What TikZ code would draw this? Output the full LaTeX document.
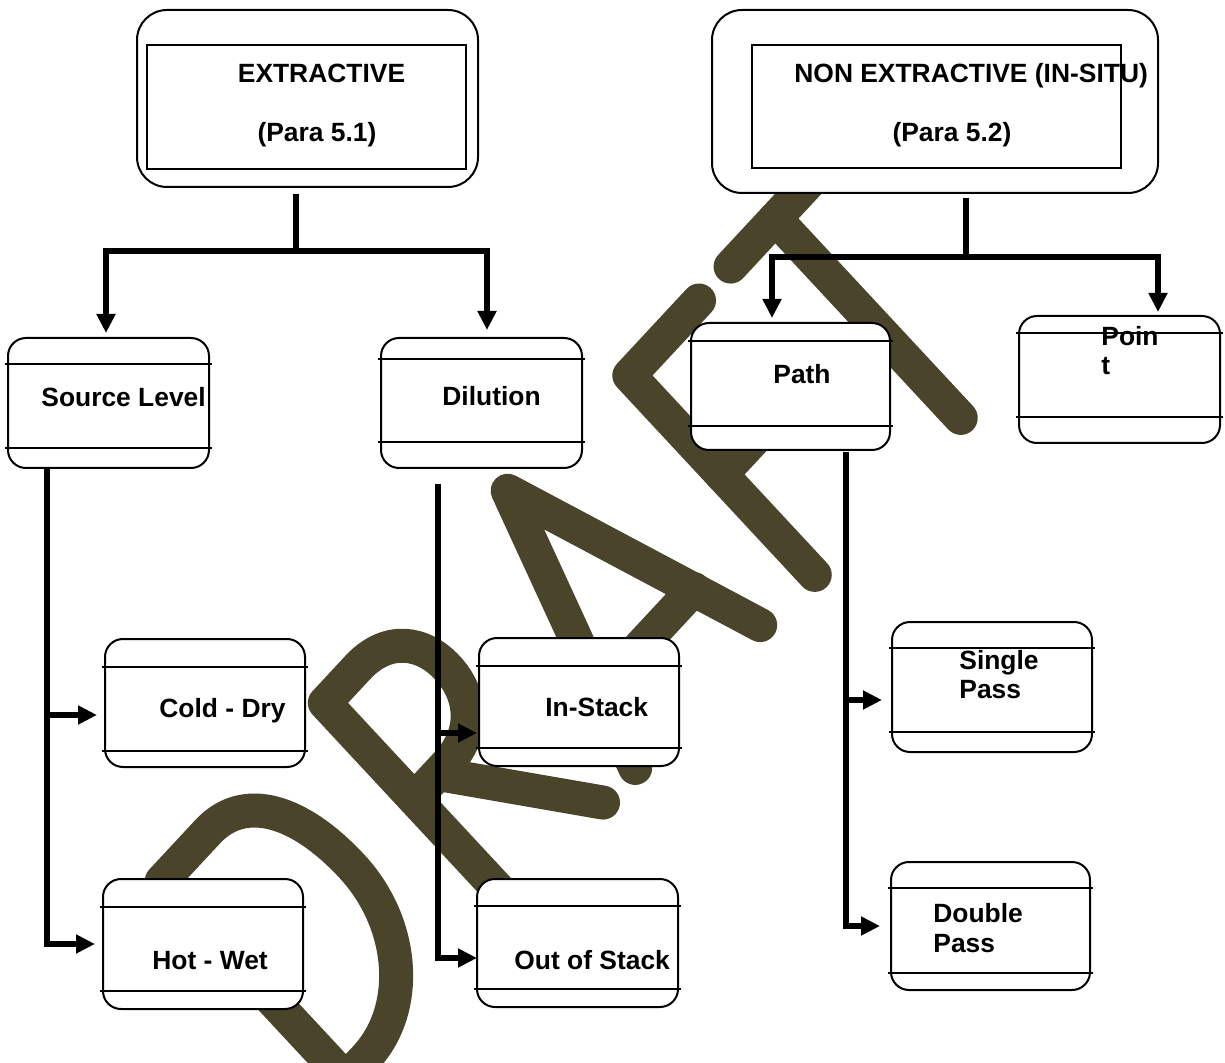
\documentclass[tikz,border=0pt]{standalone}
\usepackage{fontspec}
\setmainfont{Liberation Sans}
\usetikzlibrary{arrows.meta}
\definecolor{wmark}{RGB}{74,68,42}
\begin{document}
\begin{tikzpicture}[x=0.5pt,y=-0.5pt,
  box/.style={draw, line width=1pt, fill=white, rounded corners=9pt, inner sep=0pt, outer sep=0pt},
  bigbox/.style={box, rounded corners=15pt},
  rule/.style={line width=1pt},
  conn/.style={line width=2.75pt},
  tipend/.style={-{Triangle[length=9.5pt,width=9pt]}},
  tipboth/.style={{Triangle[length=9.5pt,width=9pt]}-{Triangle[length=9.5pt,width=9pt]}},
  lbl/.style={inner sep=0pt, font=\fontsize{13.2}{15}\selectfont\bfseries},
  wmstroke/.style={draw=wmark, line width=17pt, line cap=round, line join=round}
]
\useasboundingbox (0,0) rectangle (1225,1063);
\fill[white] (0,0) rectangle (1225,1063);

% DRAFT watermark, letters drawn in a rotated frame
\begin{scope}
\clip (0,0) rectangle (1225,1063);
\begin{scope}[xscale=0.93, rotate=45, x=0.5pt, y=0.5pt]
  % D
  \draw[wmstroke] (-500,-746) -- (-500,-1026) -- (-470,-1026)
     .. controls (-400,-1026) and (-345,-960) .. (-345,-880)
     .. controls (-345,-800) and (-375,-746) .. (-430,-746) -- cycle;
  % R
  \draw[wmstroke] (-250,-1026) -- (-250,-744) -- (-200,-744)
     .. controls (-155,-744) and (-132,-775) .. (-132,-812)
     .. controls (-132,-850) and (-155,-880) .. (-200,-880) -- (-250,-880);
  \draw[wmstroke] (-213,-882) -- (-109,-1026);
  % A
  \draw[wmstroke] (-60,-1026) -- (39,-733) -- (136,-1020);
  \draw[wmstroke] (-32,-944) -- (111,-944);
  % F
  \draw[wmstroke] (319,-744) -- (213,-744) -- (213,-1026);
  \draw[wmstroke] (213,-884) -- (300,-884);
  % T
  \draw[wmstroke] (435,-1026) -- (435,-744);
  \draw[wmstroke] (367,-744) -- (503,-744);
\end{scope}
\end{scope}

% top level boxes
\node[bigbox, minimum width=170.5pt, minimum height=88.5pt] (b1) at (307.5,98.5) {};
\draw[rule] (147,45) rectangle (466,169);
\node[bigbox, minimum width=223pt, minimum height=91.5pt] (b2) at (935,101.5) {};
\draw[rule] (752,45) rectangle (1121,168);

% second and third level boxes
\node[box, minimum width=100.5pt, minimum height=65pt] (src) at (108.5,403) {};
\draw[rule] (5,364) -- (212,364) (5,448) -- (212,448);
\node[box, minimum width=100.5pt, minimum height=65pt] (dil) at (481.5,403) {};
\draw[rule] (378,359) -- (585,359) (378,442) -- (585,442);
\node[box, minimum width=99.5pt, minimum height=63.5pt] (path) at (790.5,386.5) {};
\draw[rule] (688,341) -- (893,341) (688,426) -- (893,426);
\node[box, minimum width=100.5pt, minimum height=63.5pt] (point) at (1119.5,379.5) {};
\draw[rule] (1016,333) -- (1223,333) (1016,417) -- (1223,417);
\node[box, minimum width=100pt, minimum height=64pt] (cold) at (205,703) {};
\draw[rule] (102,667) -- (308,667) (102,751) -- (308,751);
\node[box, minimum width=100pt, minimum height=65pt] (hot) at (203,944) {};
\draw[rule] (100,907) -- (306,907) (100,991) -- (306,991);
\node[box, minimum width=100pt, minimum height=64pt] (is) at (579,702) {};
\draw[rule] (476,666) -- (682,666) (476,748) -- (682,748);
\node[box, minimum width=100.5pt, minimum height=64pt] (os) at (577.5,943) {};
\draw[rule] (474,906) -- (681,906) (474,989) -- (681,989);
\node[box, minimum width=100pt, minimum height=65pt] (sp) at (992,687) {};
\draw[rule] (889,648) -- (1095,648) (889,732) -- (1095,732);
\node[box, minimum width=99.5pt, minimum height=64pt] (dp) at (990.5,926) {};
\draw[rule] (888,888) -- (1093,888) (888,973) -- (1093,973);

% connectors
\coordinate (bus1) at (296,251);
\draw[conn] ([xshift=-5.75pt,yshift=-3.5pt]b1.south) -- (bus1);
\draw[conn,tipboth] ([xshift=-1.25pt,yshift=2.5pt]src.north) |- (bus1) -| ([xshift=2.75pt,yshift=4pt]dil.north);

\coordinate (bus2) at (966,257);
\draw[conn] ([xshift=15.5pt,yshift=-2.5pt]b2.south) -- (bus2);
\draw[conn,tipboth] ([xshift=-9.25pt,yshift=2.5pt]path.north) |- (bus2) -| ([xshift=19.25pt,yshift=2pt]point.north);

\coordinate (pathBot) at ([xshift=27.75pt,yshift=-1pt]path.south);
\coordinate (spTip) at ([xshift=-5pt,yshift=-6.5pt]sp.west);
\draw[conn,tipend] (pathBot) |- ([xshift=-5.5pt]dp.west);
\draw[conn,tipend] (pathBot |- spTip) -- (spTip);

\coordinate (srcBot) at ([xshift=-30.75pt]src.south);
\coordinate (coldTip) at ([xshift=-4pt,yshift=-6pt]cold.west);
\draw[conn,tipend] (srcBot) |- ([xshift=-4pt]hot.west);
\draw[conn,tipend] (srcBot |- coldTip) -- (coldTip);

\coordinate (dilBot) at ([xshift=-21.75pt,yshift=-8pt]dil.south);
\coordinate (isTip) at ([xshift=-1pt,yshift=-15.5pt]is.west);
\coordinate (osTip) at ([yshift=-7.5pt]os.west);
\draw[conn,tipend] (dilBot) |- (osTip);
\draw[conn,tipend] (dilBot |- isTip) -- (isTip);

% labels
\node[lbl, anchor=base] (t1a) at (321.5,83) {EXTRACTIVE};
\node[lbl, anchor=base] (t1b) at (317,142) {(Para 5.1)};
\node[lbl, anchor=base west] (t2a) at (794,83) {NON EXTRACTIVE (IN-SITU)};
\node[lbl, anchor=base] (t2b) at (952,142) {(Para 5.2)};
\node[lbl, anchor=base west] (tsrc) at (41,407) {Source Level};
\node[lbl, anchor=base west] (tdil) at (442,406) {Dilution};
\node[lbl, anchor=base west] (tpath) at (773,384) {Path};
\node[lbl, anchor=base west] (tpt1) at (1101,346) {Poin};
\node[lbl, anchor=base west] (tpt2) at (1101,375) {t};
\node[lbl, anchor=base west] (tcold) at (159,717) {Cold - Dry};
\node[lbl, anchor=base west] (thot) at (152,969) {Hot - Wet};
\node[lbl, anchor=base west] (tis) at (545,716) {In-Stack};
\node[lbl, anchor=base west] (tos) at (514,969) {Out of Stack};
\node[lbl, anchor=base west] (tsp1) at (959,669) {Single};
\node[lbl, anchor=base west] (tsp2) at (959,698) {Pass};
\node[lbl, anchor=base west] (tdp1) at (933,922) {Double};
\node[lbl, anchor=base west] (tdp2) at (933,952) {Pass};
\end{tikzpicture}
\end{document}
